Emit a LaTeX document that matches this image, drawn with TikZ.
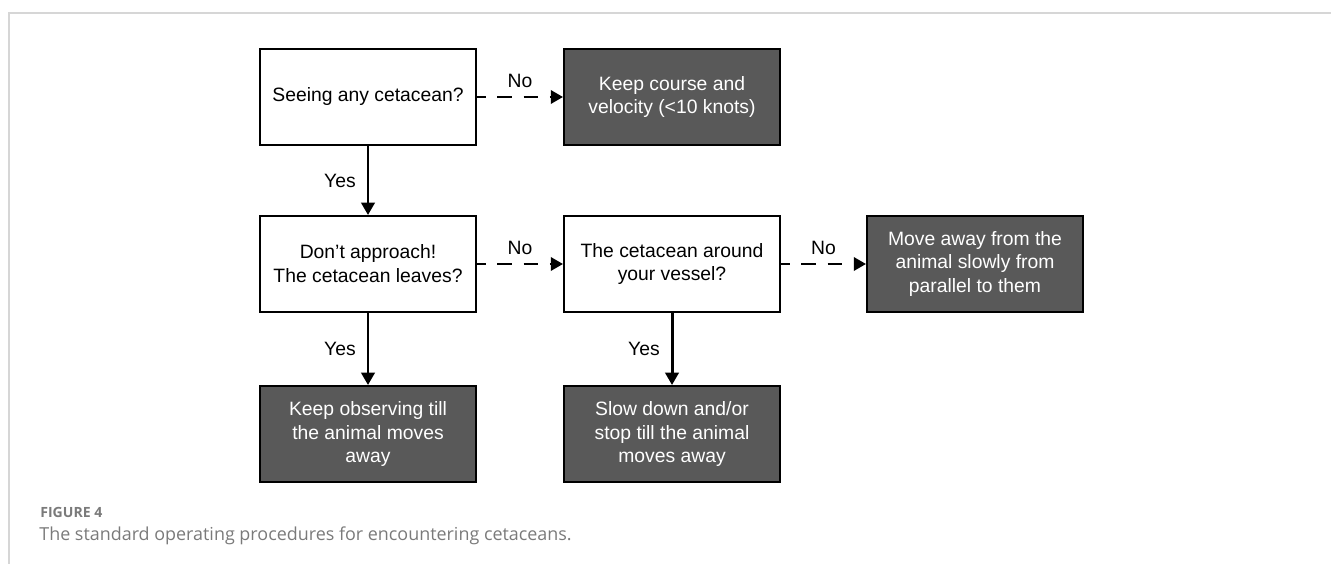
\documentclass[tikz,border=0pt]{standalone}
\usepackage{fontspec}
\setmainfont{Liberation Sans}
\newfontfamily\capfont{Open Sans}
\usetikzlibrary{arrows.meta}
\definecolor{BoxDark}{HTML}{595959}
\definecolor{FrameGray}{HTML}{D6D6D6}
\definecolor{CaptionGray}{HTML}{7A7A7A}

\begin{document}
\begin{tikzpicture}[x=0.02cm,y=-0.02cm,line cap=butt,line join=miter,
  question/.style={draw,line width=1.1pt,fill=white,minimum width=4.32cm,minimum height=1.92cm,
    align=center,inner sep=0pt,font=\fontsize{11}{13.6}\selectfont},
  action/.style={question,fill=BoxDark,text=white},
  yesarrow/.style={-{Triangle[length=7pt,width=7.5pt]},line width=1.7pt},
  noarrow/.style={yesarrow,dash pattern=on 8.5pt off 6.5pt,dash phase=3.5pt},
  lbl/.style={font=\fontsize{11}{13.6}\selectfont}]
  \useasboundingbox (0,0) rectangle (1331,564);
  % frame of the figure
  \draw[FrameGray,line width=1.1pt] (1331,13) -- (9,13) -- (9,564);
  % decisions
  \node[question] (seeing) at (368,97) {Seeing any cetacean?};
  \node[question] (leaves) at (368,264) {Don’t approach!\\The cetacean leaves?};
  \node[question] (around) at (672,264) {The cetacean around\\your vessel?};
  % actions
  \node[action] (keepcourse) at (672,97) {Keep course and\\velocity (<10 knots)};
  \node[action] (moveaway) at (975,264) {Move away from the\\animal slowly from\\parallel to them};
  \node[action] (observe) at (368,434) {Keep observing till\\the animal moves\\away};
  \node[action] (slowdown) at (672,434) {Slow down and/or\\stop till the animal\\moves away};
  % connectors
  \draw[noarrow] (seeing) -- (keepcourse) node[lbl,midway,above=1pt] {No};
  \draw[yesarrow] (seeing) -- (leaves) node[lbl,midway,left=0.1cm] {Yes};
  \draw[noarrow] (leaves) -- (around) node[lbl,midway,above=1pt] {No};
  \draw[noarrow] (around) -- (moveaway) node[lbl,midway,above=1pt] {No};
  \draw[yesarrow] (leaves) -- (observe) node[lbl,midway,left=0.1cm] {Yes};
  \draw[yesarrow] (around) -- (slowdown) node[lbl,midway,left=0.1cm] {Yes};
  % caption
  \node[anchor=base west,inner sep=0pt,text=CaptionGray,font=\capfont\bfseries\fontsize{8}{10}\selectfont] (figno) at (40,517) {FIGURE 4};
  \node[anchor=base west,inner sep=0pt,text=CaptionGray,font=\capfont\fontsize{10.2}{12}\selectfont] (figcap) at (39,540) {The standard operating procedures for encountering cetaceans.};
\end{tikzpicture}
\end{document}
